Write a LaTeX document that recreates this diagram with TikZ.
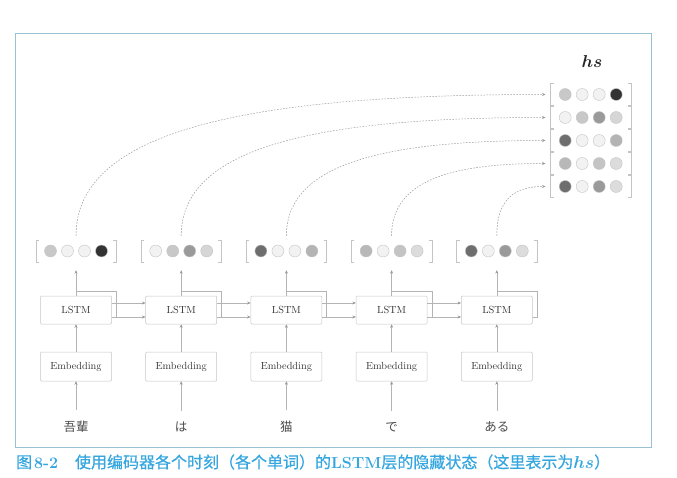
\documentclass[tikz,border=0pt]{standalone}
\usepackage{fontspec}
\usepackage{bm}
\usetikzlibrary{arrows.meta,calc}
\newfontfamily\cjk[FakeBold=0.6]{Noto Sans CJK SC}
\newfontfamily\jpf{Noto Sans CJK JP}
\definecolor{frameblue}{HTML}{5EC2E6}
\definecolor{capblue}{HTML}{35A6DE}
\definecolor{lc}{HTML}{B4B4B4}
\definecolor{ac}{HTML}{9A9A9A}
\definecolor{bc}{HTML}{C4C4C4}
\definecolor{tc}{HTML}{333333}
\definecolor{gA}{HTML}{C8C8C8}
\definecolor{gB}{HTML}{F2F2F2}
\definecolor{gC}{HTML}{9A9A9A}
\definecolor{gD}{HTML}{D6D6D6}
\definecolor{gE}{HTML}{333333}
\definecolor{gF}{HTML}{6E6E6E}
\definecolor{gG}{HTML}{B4B4B4}
\definecolor{gH}{HTML}{B8B8B8}
\definecolor{gI}{HTML}{C4C4C4}
\definecolor{gJ}{HTML}{DCDCDC}
\tikzset{
  boxnode/.style={draw=bc, line width=0.5pt, rounded corners=1pt, minimum width=71pt, minimum height=28pt, inner sep=0pt, text=tc, font=\fontsize{10.3}{12}\selectfont},
  vecbox/.style={minimum width=80pt, minimum height=22pt, inner sep=0pt},
  brk/.style={draw=bc, line width=0.5pt},
  dotnode/.style={circle, draw=bc, line width=0.4pt, minimum size=12pt, inner sep=0pt},
  arr/.style={draw=lc, line width=0.5pt, -{Stealth[length=3.5pt,width=3pt,color=ac]}},
  ln/.style={draw=lc, line width=0.5pt},
  dsh/.style={draw=ac, line width=0.5pt, dash pattern=on 1.6pt off 1.4pt, -{Stealth[length=3.5pt,width=3pt,color=ac]}},
  word/.style={inner sep=0pt, text=black!70, font=\jpf\fontsize{12.5}{14}\selectfont}
}
\newcommand{\hvec}[7]{%
  \node[vecbox] (#1) at (#2,#3) {};
  \draw[brk] ([xshift=3pt]#1.north west) -- (#1.north west) -- (#1.south west) -- ([xshift=3pt]#1.south west);
  \draw[brk] ([xshift=-3pt]#1.north east) -- (#1.north east) -- (#1.south east) -- ([xshift=-3pt]#1.south east);
  \node[dotnode, fill=#4] (#1a) at ([xshift=-25.5pt]#1.center) {};
  \node[dotnode, fill=#5] (#1b) at ([xshift=-8.5pt]#1.center) {};
  \node[dotnode, fill=#6] (#1c) at ([xshift=8.5pt]#1.center) {};
  \node[dotnode, fill=#7] (#1d) at ([xshift=25.5pt]#1.center) {};
}
\begin{document}
\begin{tikzpicture}[x=1pt,y=-1pt]
\useasboundingbox (0,0) rectangle (677,478);
\draw[frameblue!60!gray!70, line width=0.9pt] (15.3,33.3) rectangle (651.5,447.3);

% LSTM and Embedding boxes, words
\foreach \i/\x/\w in {1/76/吾輩,2/181.2/は,3/286.4/猫,4/391.6/で,5/496.8/ある} {
  \node[boxnode] (l\i) at (\x,310) {LSTM};
  \node[boxnode, minimum height=29pt] (e\i) at (\x,366.5) {Embedding};
  \node[word] (w\i) at (\x,427) {\w};
}

% hidden vectors
\hvec{v1}{76}{251}{gA}{gB}{gB}{gE}
\hvec{v2}{181.2}{251}{gB}{gA}{gC}{gD}
\hvec{v3}{286.4}{251}{gF}{gB}{gB}{gG}
\hvec{v4}{391.6}{251}{gH}{gB}{gI}{gJ}
\hvec{v5}{496.8}{251}{gF}{gB}{gC}{gJ}

% hs matrix rows
\hvec{r1}{590.7}{94.5}{gA}{gB}{gB}{gE}
\hvec{r2}{590.7}{117.5}{gB}{gA}{gC}{gD}
\hvec{r3}{590.7}{140.5}{gF}{gB}{gB}{gG}
\hvec{r4}{590.7}{163.5}{gH}{gB}{gI}{gJ}
\hvec{r5}{590.7}{186.5}{gF}{gB}{gC}{gJ}

\node[font=\fontsize{18}{20}\selectfont, text=black!85] (hs) at (592,62) {$\bm{hs}$};

% vertical arrows
\foreach \i in {1,...,5} {
  \draw[arr] ([yshift=11pt]w\i.north) -- (e\i.south);
  \draw[arr] (e\i.north) -- (l\i.south);
  \draw[arr] (l\i.north) -- ([yshift=-8pt]v\i.south);
  \draw[ln] ([yshift=5pt]l\i.north) -| ([xshift=4.5pt,yshift=-7pt]l\i.east) -- ([yshift=-7pt]l\i.east);
}
% recurrent connections
\foreach \i/\j in {1/2,2/3,3/4,4/5} {
  \draw[arr] ([yshift=7pt]l\i.east) -- ([yshift=7pt]l\j.west);
  \draw[arr] ([yshift=-7pt]l\i.east) -- ([yshift=-7pt]l\j.west);
}

% dashed curves
\foreach \i in {1,...,5} {
  \draw[dsh] ([yshift=4pt]v\i.north) .. controls ($([yshift=4pt]v\i.north)!0.75!(v\i.north |- r\i.west)$) and ($([xshift=-5pt]r\i.west)!0.63!(v\i.north |- r\i.west)$) .. ([xshift=-5pt]r\i.west);
}

% caption
\node[anchor=west, inner sep=0pt, text=capblue, font=\cjk\fontsize{16}{18}\selectfont] (cap) at (16,462)
  {图\kern2pt{\rmfamily\bfseries 8-2}\hspace{1.05em}使用编码器各个时刻（各个单词）的{\rmfamily\bfseries LSTM}层的隐藏状态（这里表示为$\bm{hs}$）};
\end{tikzpicture}
\end{document}
